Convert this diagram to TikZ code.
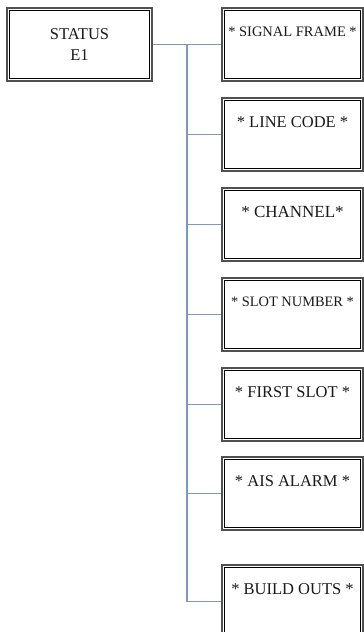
\documentclass[tikz,border=0pt]{standalone}
\usepackage{fontspec}
\setmainfont{Liberation Serif}
\definecolor{connblue}{RGB}{122,152,192}
\definecolor{edgegray}{RGB}{80,80,80}
\definecolor{txtgray}{RGB}{25,25,25}
\tikzset{
  box/.style={draw=edgegray, line width=2.4pt, minimum width=141pt, minimum height=73pt, inner sep=0pt, fill=white},
  stbox/.style={box, minimum width=145pt},
  innerline/.style={draw=black, line width=1pt},
  lbl/.style={text=txtgray, inner sep=0pt, font=\fontsize{16.5}{18}\selectfont},
  conn/.style={draw=connblue, line width=1.3pt}
}
\begin{document}
\begin{tikzpicture}[x=1pt,y=-1pt]
\useasboundingbox (0,0) rectangle (364,632);
\clip (0,0) rectangle (364,632);
\fill[white] (0,0) rectangle (364,632);
\coordinate (j) at (187,44.5);
\node[stbox] (st) at (79.5,44.5) {};
\node[box] (b1) at (292.5,44.5) {};
\node[box] (b2) at (292.5,134.5) {};
\node[box] (b3) at (292.5,224.5) {};
\node[box] (b4) at (292.5,314.5) {};
\node[box] (b5) at (292.5,404.5) {};
\node[box] (b6) at (292.5,493.5) {};
\node[box] (b7) at (292.5,601.5) {};
\draw[conn] (st.east) -- (b1.west);
\foreach \b in {b2,b3,b4,b5,b6,b7}{
  \draw[conn] (j) |- (\b.west);
}
\foreach \b in {st,b1,b2,b3,b4,b5,b6,b7}{
  \draw[innerline] ([shift={(3.5pt,-3.5pt)}]\b.north west) rectangle ([shift={(-3.5pt,3.5pt)}]\b.south east);
}
\node[lbl, align=center, font=\fontsize{16.5}{21}\selectfont] (tst) at (st.center) {STATUS\\E1};
\node[lbl, font=\fontsize{14.5}{16}\selectfont] (t1) at ([yshift=-25pt]b1.north) {* SIGNAL FRAME *};
\node[lbl] (t2) at ([yshift=-25pt]b2.north) {* LINE CODE *};
\node[lbl, font=\fontsize{17}{18}\selectfont] (t3) at ([yshift=-25pt]b3.north) {* CHANNEL*};
\node[lbl, font=\fontsize{14.4}{16}\selectfont] (t4) at ([yshift=-25pt]b4.north) {* SLOT NUMBER *};
\node[lbl] (t5) at ([yshift=-25pt]b5.north) {* FIRST SLOT *};
\node[lbl] (t6) at ([yshift=-25pt]b6.north) {* AIS ALARM *};
\node[lbl] (t7) at ([yshift=-25pt]b7.north) {* BUILD OUTS *};
\end{tikzpicture}
\end{document}
